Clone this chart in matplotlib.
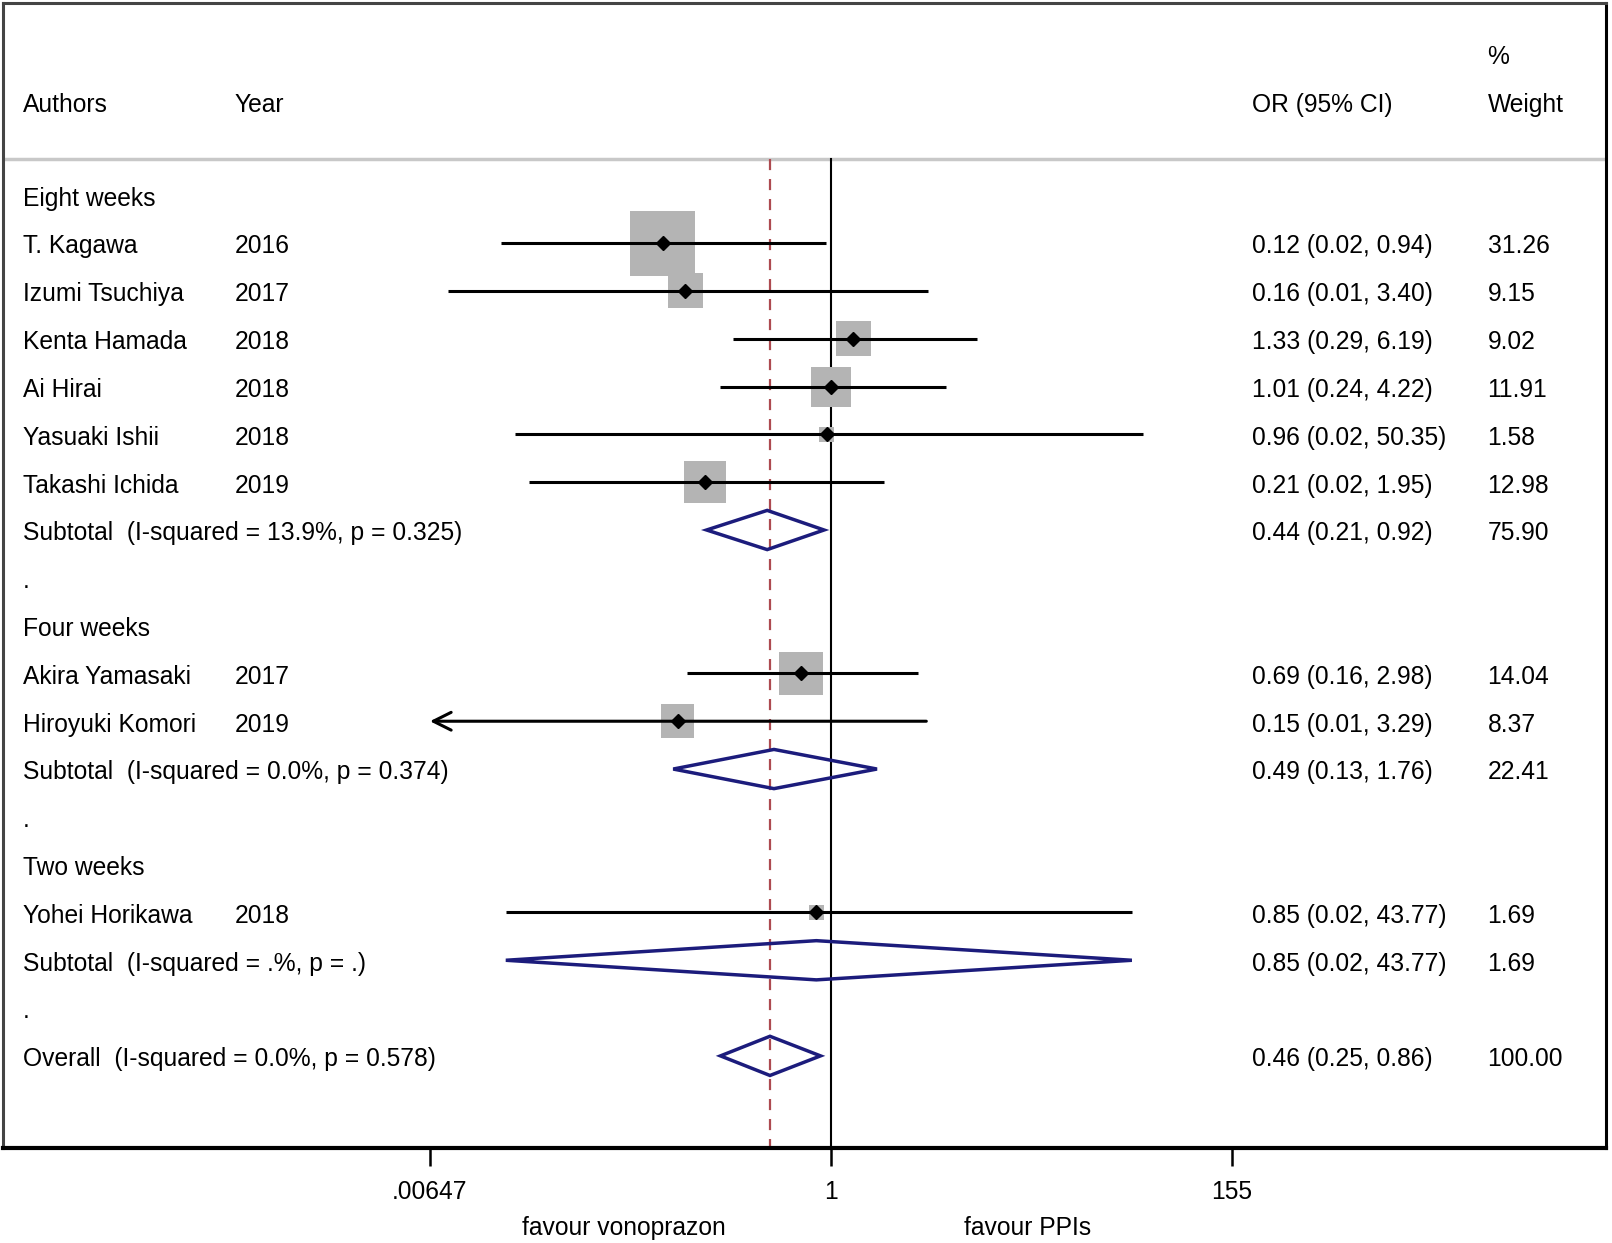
import numpy as np
import matplotlib
matplotlib.use("Agg")
import matplotlib.pyplot as plt
from matplotlib.patches import Polygon

plt.rcParams['font.family'] = ['Liberation Sans', 'DejaVu Sans']

# ---------------- data ----------------
groups = ["Eight weeks", "Four weeks", "Two weeks"]
group_sizes = [6, 2, 1]
authors = ["T. Kagawa", "Izumi Tsuchiya", "Kenta Hamada", "Ai Hirai", "Yasuaki Ishii",
           "Takashi Ichida", "Akira Yamasaki", "Hiroyuki Komori", "Yohei Horikawa"]
years = ["2016", "2017", "2018", "2018", "2018", "2019", "2017", "2019", "2018"]
study_or = [0.121, 0.161, 1.33, 1.0, 0.95, 0.206, 0.687, 0.146, 0.835]
study_lo = [0.0159, 0.00814, 0.292, 0.25, 0.0189, 0.0226, 0.164, 0.0055, 0.0168]
study_hi = [0.937, 3.42, 6.27, 4.26, 51.0, 1.96, 3.0, 3.33, 44.2]
weights = [31.26, 9.15, 9.02, 11.91, 1.58, 12.98, 14.04, 8.37, 1.69]
study_text = ["0.12 (0.02, 0.94)", "0.16 (0.01, 3.40)", "1.33 (0.29, 6.19)",
              "1.01 (0.24, 4.22)", "0.96 (0.02, 50.35)", "0.21 (0.02, 1.95)",
              "0.69 (0.16, 2.98)", "0.15 (0.01, 3.29)", "0.85 (0.02, 43.77)"]
weight_text = ["31.26", "9.15", "9.02", "11.91", "1.58", "12.98", "14.04", "8.37", "1.69"]

sub_or = [0.45, 0.49, 0.835]
sub_lo = [0.21, 0.138, 0.0168]
sub_hi = [0.92, 1.79, 44.2]
sub_het = ["(I-squared = 13.9%, p = 0.325)", "(I-squared = 0.0%, p = 0.374)",
           "(I-squared = .%, p = .)"]
sub_text = ["0.44 (0.21, 0.92)", "0.49 (0.13, 1.76)", "0.85 (0.02, 43.77)"]
sub_weight = ["75.90", "22.41", "1.69"]

overall_or, overall_lo, overall_hi = 0.466, 0.25, 0.88
overall_het = "(I-squared = 0.0%, p = 0.578)"
overall_text = "0.46 (0.25, 0.86)"
overall_weight = "100.00"

xticks = [0.00647, 1, 155]
xtick_labels = [".00647", "1", "155"]
clip_low = 0.00647

# ---------------- layout ----------------
W, H = 1568.0, 1209.0  # reference layout units
fig = plt.figure(figsize=(16.12, 12.43), dpi=100)
ax_l, ax_r, ax_t, ax_b = 3, 1562, 3, 1117
ax = fig.add_axes([ax_l / W, 1 - ax_b / H, (ax_r - ax_l) / W, (ax_b - ax_t) / H])

row0_px, row_h = 190.0, 46.5
px_per_dec = 178.06
x1_px = 808.0

ax.set_xscale('log')
ax.set_xlim(10 ** ((ax_l - x1_px) / px_per_dec), 10 ** ((ax_r - x1_px) / px_per_dec))
ax.set_ylim((ax_b - row0_px) / row_h, (ax_t - row0_px) / row_h)

tr = ax.get_yaxis_transform()  # x in axes fraction, y in data
FS = 17.7
col_author = (22 - ax_l) / (ax_r - ax_l)
col_year = (228 - ax_l) / (ax_r - ax_l)
col_or = (1218 - ax_l) / (ax_r - ax_l)
col_w = (1447 - ax_l) / (ax_r - ax_l)
toff = 0.07

def txt(xf, y, s):
    ax.text(xf, y + toff, s, transform=tr, ha='left', va='center', fontsize=FS, color='black')

BOX = '#b4b4b4'
NAVY = '#1c1c7c'
REDD = '#ad4a50'

def diamond(lo, est, hi, y, h=0.41):
    ax.add_patch(Polygon([(lo, y), (est, y - h), (hi, y), (est, y + h)], closed=True,
                         fill=False, edgecolor=NAVY, lw=2.5, zorder=4))

# header
sep_y = (155 - row0_px) / row_h
hdr_y = (99 - row0_px) / row_h
pct_y = (52 - row0_px) / row_h
txt(col_author, hdr_y, "Authors")
txt(col_year, hdr_y, "Year")
txt(col_or, hdr_y, "OR (95% CI)")
txt(col_w, hdr_y, "Weight")
txt(col_w, pct_y, "%")
ax.axhline(sep_y, color='#c8c8c8', lw=2.5, zorder=1)

ybot = ax.get_ylim()[0]
ax.plot([1, 1], [sep_y, ybot], color='black', lw=1.5, zorder=2)
ax.plot([overall_or, overall_or], [sep_y, ybot], color=REDD, lw=1.6,
        ls=(0, (5, 4)), zorder=2)

row = 0
k = 0
for g, (gname, n) in enumerate(zip(groups, group_sizes)):
    txt(col_author, row, gname)
    row += 1
    for j in range(n):
        txt(col_author, row, authors[k])
        txt(col_year, row, years[k])
        txt(col_or, row, study_text[k])
        txt(col_w, row, weight_text[k])
        ax.scatter([study_or[k]], [row], s=69.6 * weights[k], marker='s', color=BOX,
                   edgecolors='none', zorder=3)
        if study_lo[k] < clip_low:
            ax.annotate('', xy=(clip_low, row), xytext=(study_hi[k], row),
                        arrowprops=dict(arrowstyle='->', lw=2.2, color='black',
                                        mutation_scale=32, shrinkA=0, shrinkB=0),
                        zorder=5)
        else:
            ax.plot([study_lo[k], study_hi[k]], [row, row], color='black', lw=2.2, zorder=5,
                    solid_capstyle='butt')
        ax.plot([study_or[k]], [row], marker='D', color='black', markersize=7.5, zorder=6)
        row += 1
        k += 1
    txt(col_author, row, "Subtotal  " + sub_het[g])
    txt(col_or, row, sub_text[g])
    txt(col_w, row, sub_weight[g])
    diamond(sub_lo[g], sub_or[g], sub_hi[g], row)
    row += 1
    txt(col_author, row, ".")
    row += 1

txt(col_author, row, "Overall  " + overall_het)
txt(col_or, row, overall_text)
txt(col_w, row, overall_weight)
diamond(overall_lo, overall_or, overall_hi, row)

# axes styling
ax.set_yticks([])
ax.minorticks_off()
ax.set_xticks(xticks)
ax.set_xticklabels(xtick_labels)
ax.xaxis.set_minor_locator(matplotlib.ticker.NullLocator())
ax.tick_params(axis='x', direction='out', length=13, width=1.8, pad=10, labelsize=FS,
               color='black')
for sp in ['left', 'top']:
    ax.spines[sp].set_color('#444444')
    ax.spines[sp].set_linewidth(2.2)
ax.spines['right'].set_color('black')
ax.spines['right'].set_linewidth(2.2)
ax.spines['bottom'].set_color('black')
ax.spines['bottom'].set_linewidth(3)

fig.text(607 / W, 1 - 1194 / H, "favour vonoprazon", ha='center', va='center', fontsize=FS)
fig.text(1000 / W, 1 - 1194 / H, "favour PPIs", ha='center', va='center', fontsize=FS)

fig.savefig("out.png", dpi=100)
